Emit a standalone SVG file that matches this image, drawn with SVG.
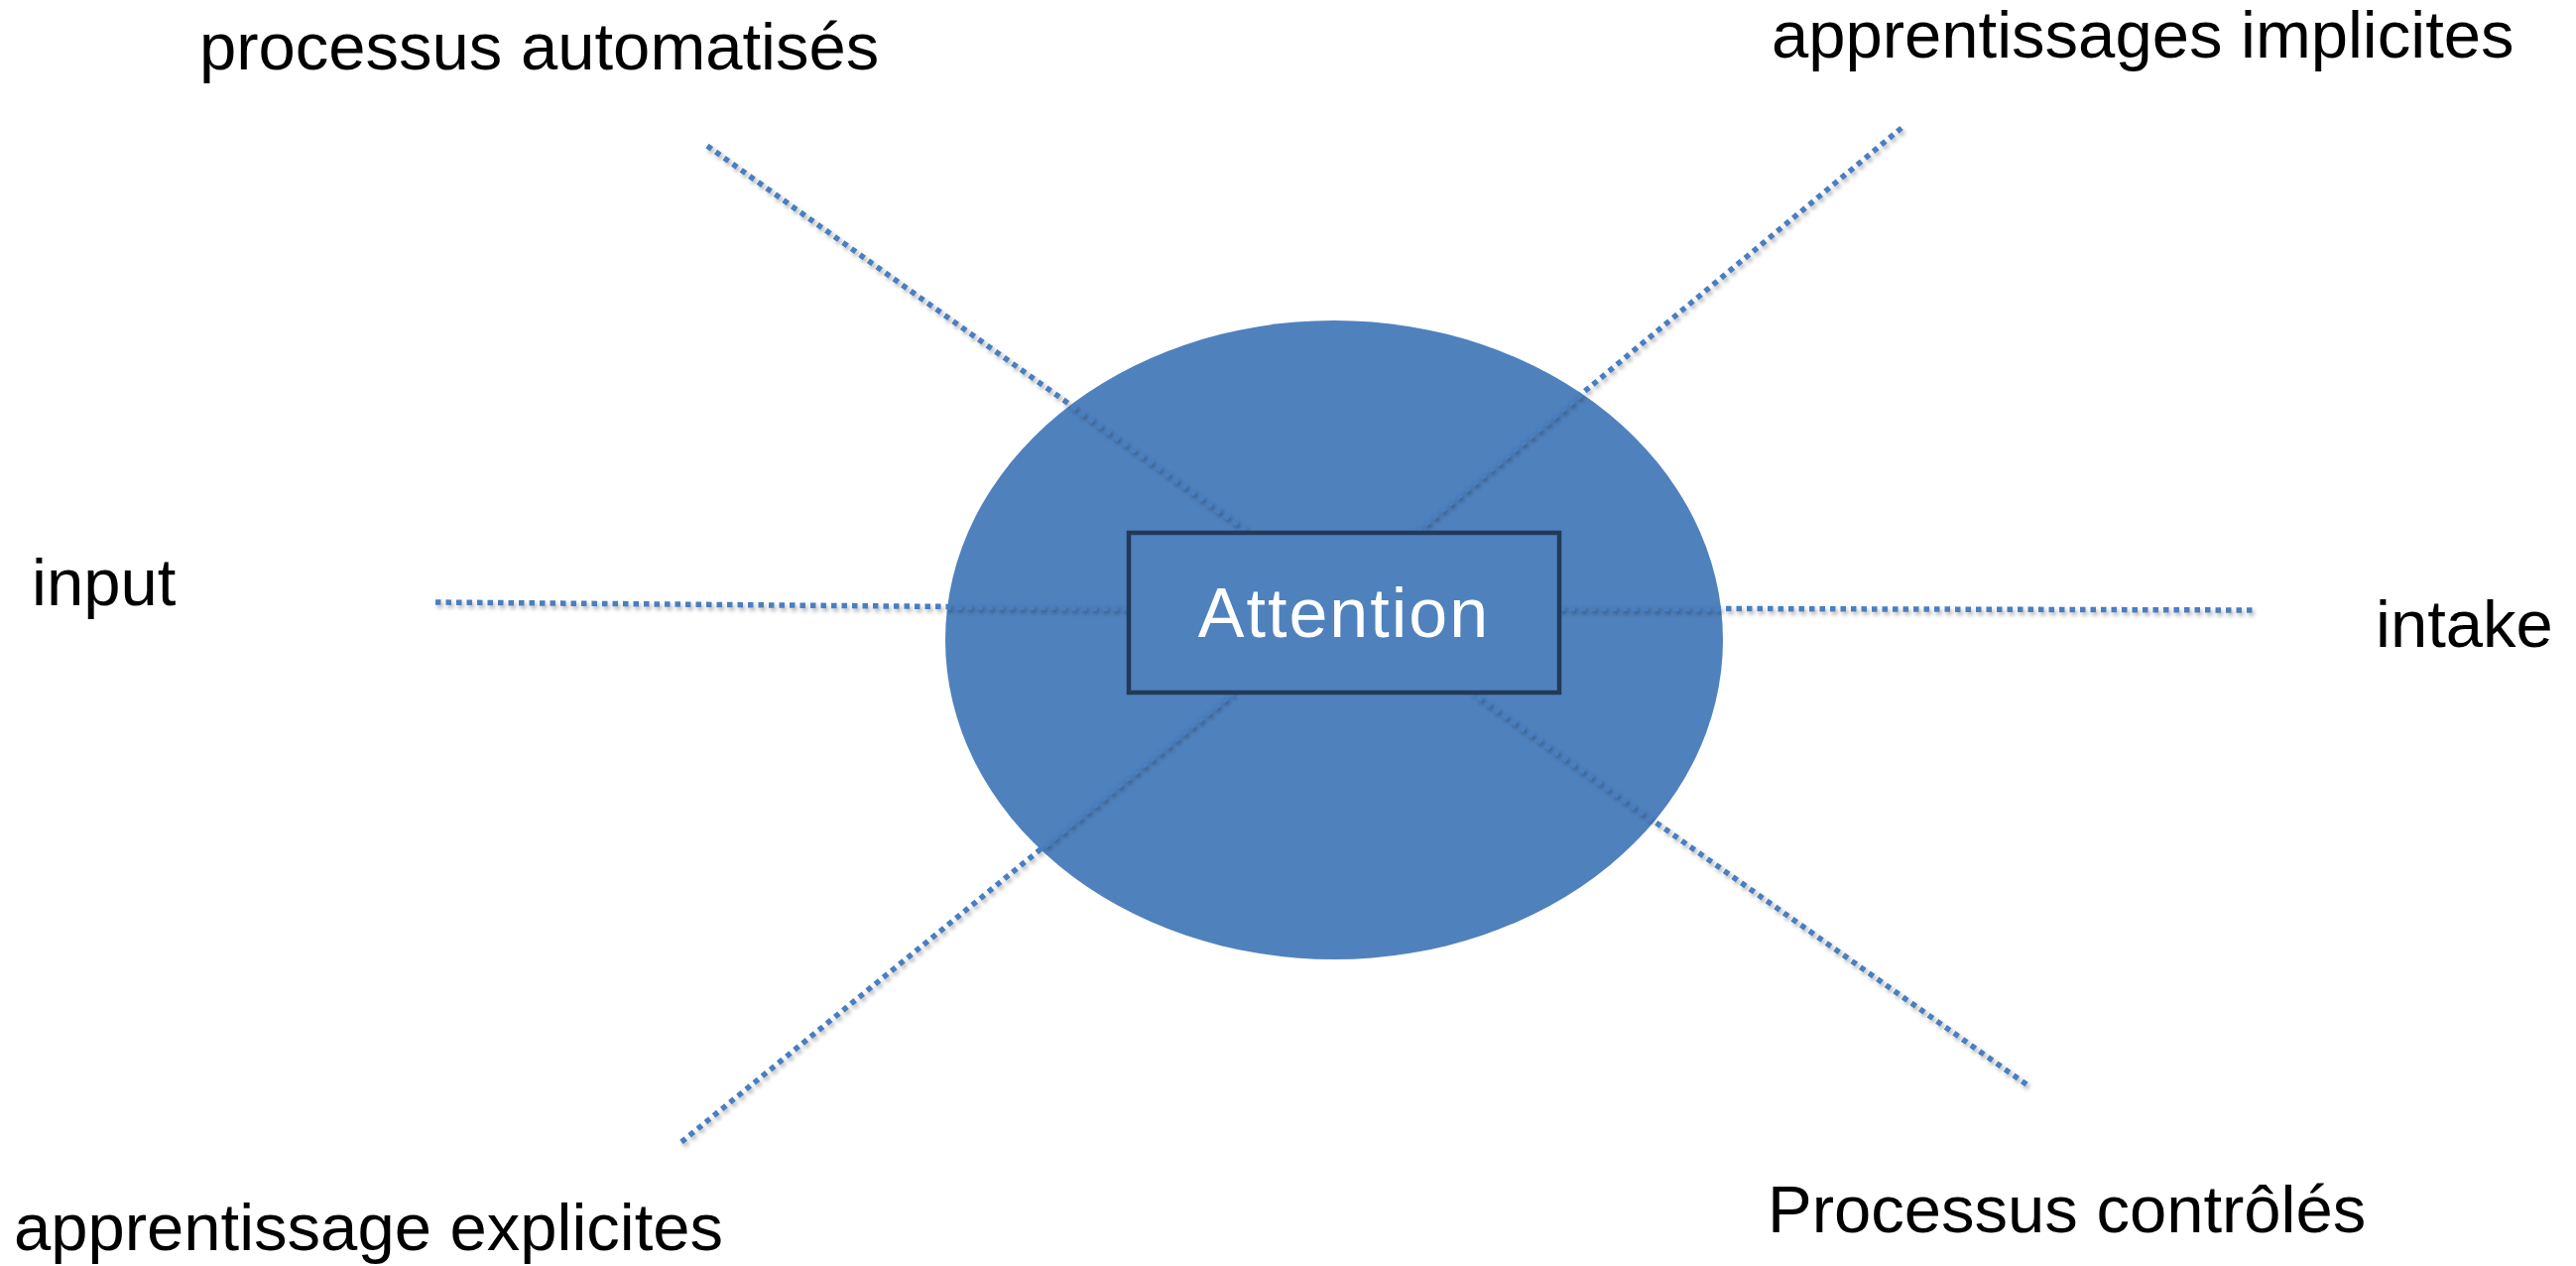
<svg xmlns="http://www.w3.org/2000/svg" width="2597" height="1276" viewBox="0 0 2597 1276">
  <style>
    .lbl { font-family: "Liberation Sans", Arial, sans-serif; font-size: 67px; fill: #000000; }
    .conn { stroke: #4A7EBF; stroke-width: 5.5; stroke-dasharray: 5.5 5; fill: none; }
    .title { font-family: "Liberation Sans", Arial, sans-serif; font-size: 70px; fill: #FFFFFF; letter-spacing: 2px; }
  </style>
  <defs>
    <filter id="shadow" x="-10%" y="-10%" width="120%" height="120%">
      <feGaussianBlur in="SourceAlpha" stdDeviation="2" result="b"/>
      <feOffset in="b" dx="2" dy="3" result="o"/>
      <feComponentTransfer in="o" result="s">
        <feFuncA type="linear" slope="0.32"/>
      </feComponentTransfer>
      <feMerge>
        <feMergeNode in="s"/>
        <feMergeNode in="SourceGraphic"/>
      </feMerge>
    </filter>
  </defs>
  <rect x="0" y="0" width="2597" height="1276" fill="#FFFFFF"/>

  <g id="ellipse">
    <ellipse cx="1345" cy="645" rx="392" ry="322" fill="#4F81BD"/>
  </g>

  <g id="connectors" filter="url(#shadow)">
    <line class="conn" x1="713" y1="147" x2="1260" y2="537"/>
    <line class="conn" x1="1917" y1="129" x2="1426" y2="537"/>
    <line class="conn" x1="439" y1="607" x2="1138" y2="613"/>
    <line class="conn" x1="1572" y1="613" x2="2275" y2="615"/>
    <line class="conn" x1="687" y1="1151" x2="1243" y2="698"/>
    <line class="conn" x1="2043" y1="1093" x2="1484" y2="698"/>
  </g>

  <g id="attention">
    <rect x="1138" y="537" width="434" height="161" fill="#4F81BD" stroke="#213A58" stroke-width="4.5"/>
    <text class="title" x="1355" y="642" text-anchor="middle">Attention</text>
  </g>

  <g id="processus-automatises">
    <text class="lbl" x="201" y="70">processus automatisés</text>
  </g>
  <g id="apprentissages-implicites">
    <text class="lbl" x="1786" y="58">apprentissages implicites</text>
  </g>
  <g id="input">
    <text class="lbl" x="32" y="610">input</text>
  </g>
  <g id="intake">
    <text class="lbl" x="2395" y="652">intake</text>
  </g>
  <g id="apprentissage-explicites">
    <text class="lbl" x="14" y="1260">apprentissage explicites</text>
  </g>
  <g id="processus-controles">
    <text class="lbl" x="1782" y="1242">Processus contrôlés</text>
  </g>
</svg>
